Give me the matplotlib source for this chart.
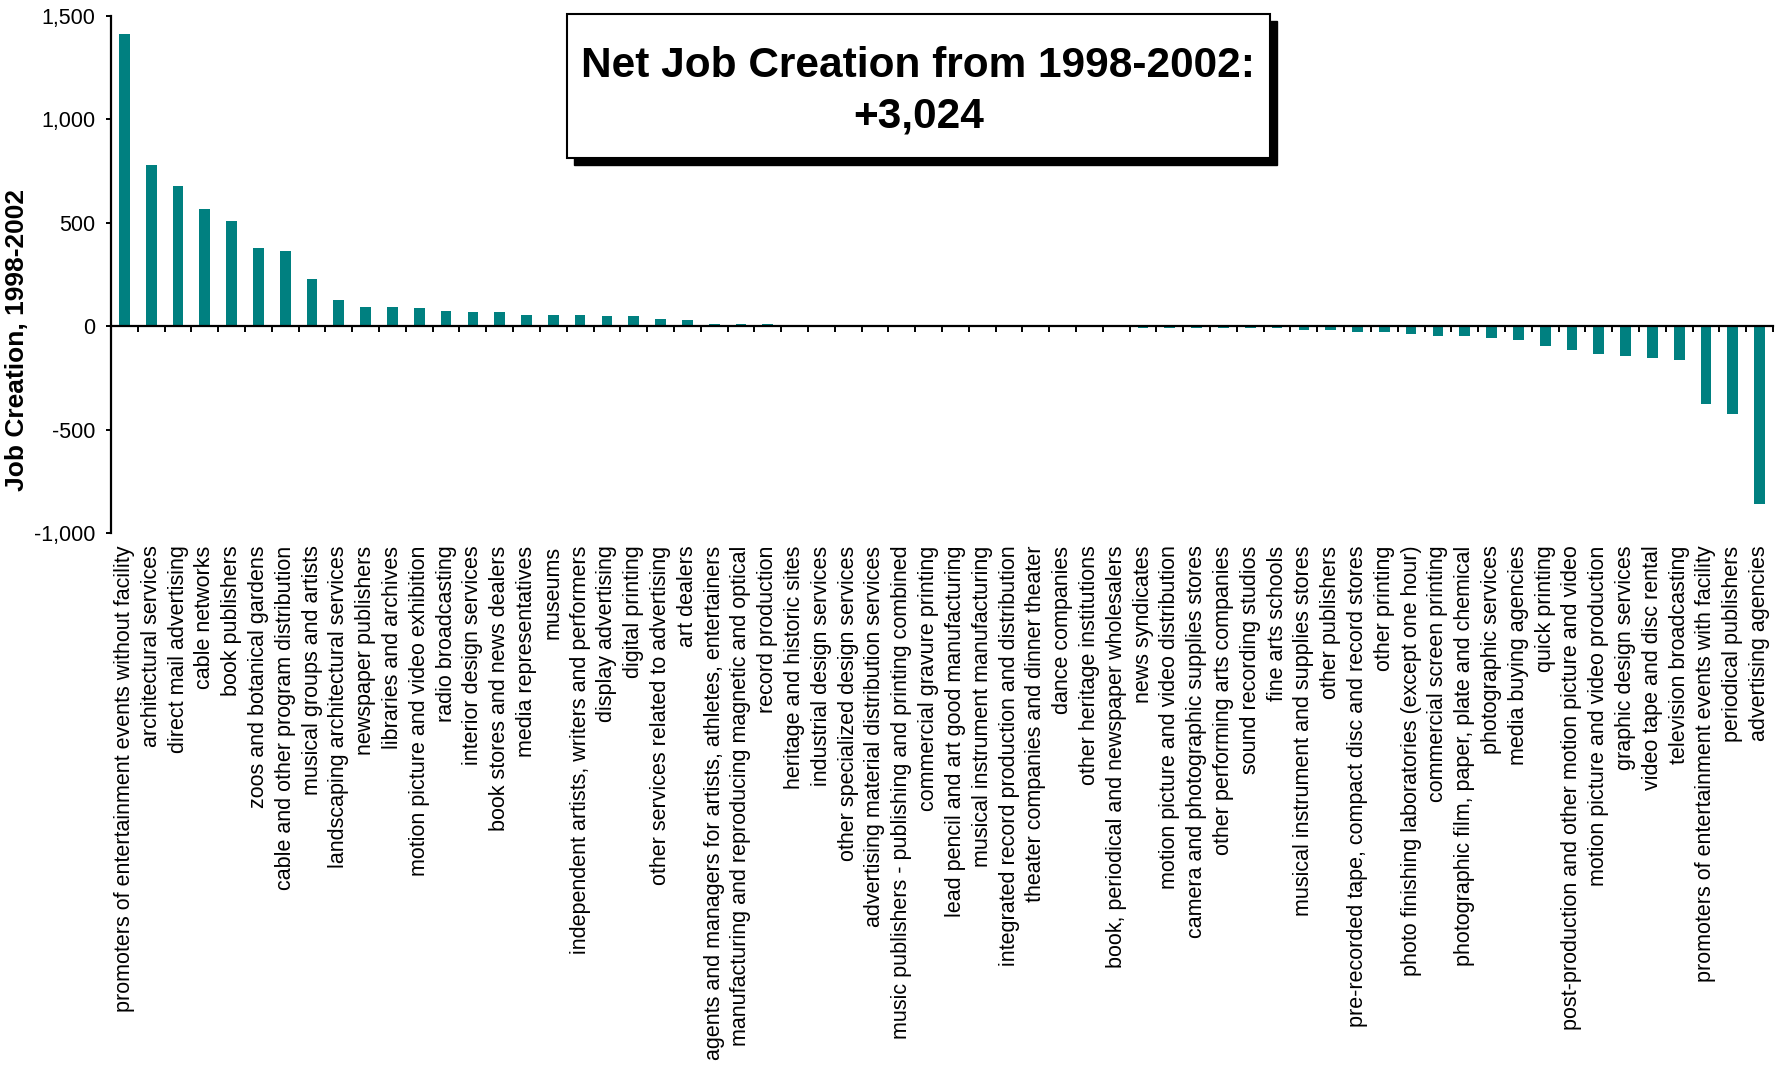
import numpy as np
import matplotlib
import matplotlib.pyplot as plt
from matplotlib.patches import Rectangle
from matplotlib.ticker import FuncFormatter, FixedLocator
matplotlib.use('Agg')

plt.rcParams['font.family'] = ['Liberation Sans', 'DejaVu Sans']

categories = [
    'promoters of entertainment events without facility',
    'architectural services',
    'direct mail advertising',
    'cable networks',
    'book publishers',
    'zoos and botanical gardens',
    'cable and other program distribution',
    'musical groups and artists',
    'landscaping architectural services',
    'newspaper publishers',
    'libraries and archives',
    'motion picture and video exhibition',
    'radio broadcasting',
    'interior design services',
    'book stores and news dealers',
    'media representatives',
    'museums',
    'independent artists, writers and performers',
    'display advertising',
    'digital printing',
    'other services related to advertising',
    'art dealers',
    'agents and managers for artists, athletes, entertainers',
    'manufacturing and reproducing magnetic and optical',
    'record production',
    'heritage and historic sites',
    'industrial design services',
    'other specialized design services',
    'advertising material distribution services',
    'music publishers - publishing and printing combined',
    'commercial gravure printing',
    'lead pencil and art good manufacturing',
    'musical instrument manufacturing',
    'integrated record production and distribution',
    'theater companies and dinner theater',
    'dance companies',
    'other heritage institutions',
    'book, periodical and newspaper wholesalers',
    'news syndicates',
    'motion picture and video distribution',
    'camera and photographic supplies stores',
    'other performing arts companies',
    'sound recording studios',
    'fine arts schools',
    'musical instrument and supplies stores',
    'other publishers',
    'pre-recorded tape, compact disc and record stores',
    'other printing',
    'photo finishing laboratories (except one hour)',
    'commercial screen printing',
    'photographic film, paper, plate and chemical',
    'photographic services',
    'media buying agencies',
    'quick printing',
    'post-production and other motion picture and video',
    'motion picture and video production',
    'graphic design services',
    'video tape and disc rental',
    'television broadcasting',
    'promoters of entertainment events with facility',
    'periodical publishers',
    'advertising agencies',
]

job_change = [
    1414, 778, 676, 566, 507, 378, 363, 229, 127, 93,
    93, 89, 74, 69, 69, 55, 55, 55, 50, 50,
    35, 31, 11, 11, 11, 0, 0, 0, 0, 0,
    0, 0, 0, 0, 0, 0, 0, 0, -10, -10,
    -10, -10, -10, -10, -19, -19, -29, -29, -39, -48,
    -48, -58, -68, -97, -116, -135, -145, -155, -164, -377,
    -427, -860,
]

yticks = [-1000, -500, 0, 500, 1000, 1500]
title_lines = ['Net Job Creation from 1998-2002:', '+3,024']
ylabel_text = 'Job Creation, 1998-2002'

W, H = 1775, 1071
fig = plt.figure(figsize=(W / 100, H / 100), dpi=100)
ax = fig.add_axes([111 / W, 1 - 533 / H, (1773 - 111) / W, (533 - 15.8) / H])

x = np.arange(len(categories))
ax.bar(x, job_change, width=0.4, color='#008080', zorder=2)

ax.set_xlim(-0.5, len(categories) - 0.5)
ax.set_ylim(-1000, 1500)

for side in ['top', 'right']:
    ax.spines[side].set_visible(False)
ax.spines['bottom'].set_position(('data', 0))
ax.spines['bottom'].set_linewidth(1.6)
ax.spines['left'].set_linewidth(1.6)
ax.spines['bottom'].set_zorder(3)

# category names hang below the plot, small ticks sit on the zero line
ax.set_xticks(x)
ax.set_xticklabels(categories, rotation=90)
ax.xaxis.set_minor_locator(FixedLocator(np.arange(-0.5, len(categories), 1.0)))
ax.tick_params(axis='x', which='major', length=0, pad=158, labelsize=15.5)
ax.tick_params(axis='x', which='minor', direction='out', length=4.5, width=1.4)

ax.set_yticks(yticks)
ax.yaxis.set_major_formatter(FuncFormatter(lambda v, p: f'{int(v):,}'))
ax.tick_params(axis='y', direction='out', length=3.5, width=1.4, pad=8, labelsize=15.5)

fig.text(17 / W, 1 - 340 / H, ylabel_text, rotation=90, ha='center', va='center',
         fontsize=19, fontweight='bold')

# boxed headline with a drop shadow
bx0, by0, bx1, by1 = 567, 14, 1270, 158
off = 7
fig.patches.append(Rectangle(((bx0 + off) / W, 1 - (by1 + off) / H),
                             (bx1 - bx0) / W, (by1 - by0) / H,
                             transform=fig.transFigure, facecolor='black',
                             edgecolor='black', zorder=5))
fig.patches.append(Rectangle((bx0 / W, 1 - by1 / H),
                             (bx1 - bx0) / W, (by1 - by0) / H,
                             transform=fig.transFigure, facecolor='white',
                             edgecolor='black', linewidth=1.5, zorder=6))
for line, base in zip(title_lines, [77, 128]):
    fig.text((bx0 + bx1) / 2 / W, 1 - base / H, line, ha='center', va='baseline',
             fontsize=30.5, fontweight='bold', zorder=7)

fig.savefig('out.png', dpi=100)
plt.close('all')
